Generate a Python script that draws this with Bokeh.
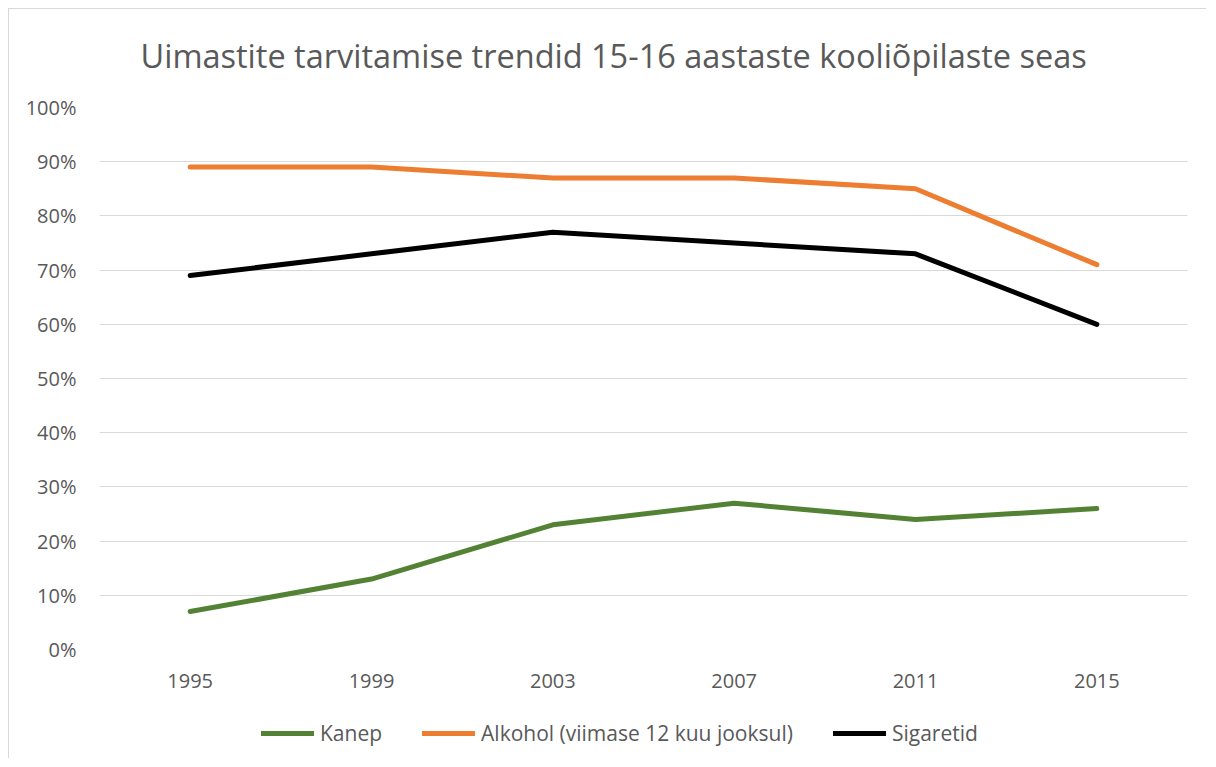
from bokeh.plotting import figure
from bokeh.layouts import column
from bokeh.models import (Range1d, FactorRange, FixedTicker, PrintfTickFormatter, Legend, LegendItem,
                          CategoricalAxis)
from bokeh.embed import file_html
from bokeh.resources import INLINE

years = ["1995", "1999", "2003", "2007", "2011", "2015"]
kanep = [7, 13, 23, 27, 24, 26]
alkohol = [89, 89, 87, 87, 85, 71]
sigaretid = [69, 73, 77, 75, 73, 60]
y_ticks = [0, 10, 20, 30, 40, 50, 60, 70, 80, 90, 100]
series_names = ["Kanep", "Alkohol (viimase 12 kuu jooksul)", "Sigaretid"]
series_colors = ["#548235", "#ed7d31", "#000000"]
title_text = "Uimastite tarvitamise trendid 15-16 aastaste kooliõpilaste seas"

FONT = "Open Sans"
TEXT = "#595959"
GRID = "#d9d9d9"

p = figure(frame_width=1087, frame_height=541, x_range=FactorRange(*years), y_range=Range1d(0, 100),
           output_backend="svg", toolbar_location=None,
           min_border_left=90, min_border_right=20, min_border_top=98, min_border_bottom=50)
p.styles = {"border-left": "1px solid #d9d9d9", "border-top": "1px solid #d9d9d9",
            "margin-left": "8px", "margin-top": "8px"}
p.background_fill_color = "white"
p.border_fill_color = "white"
p.outline_line_color = None

# invisible spacer (empty axis) between the title and the plot area
spacer = CategoricalAxis(axis_line_color=None, major_tick_line_color=None,
                         separator_line_color=None,
                         major_tick_out=30, major_tick_in=0, major_label_standoff=0,
                         major_label_text_font_size="1px", major_label_text_color=None,
                         major_label_overrides={y: "" for y in years})
p.add_layout(spacer, "above")

r_k = p.line(years, kanep, line_width=5, color=series_colors[0], line_cap="round", line_join="round")
r_a = p.line(years, alkohol, line_width=5, color=series_colors[1], line_cap="round", line_join="round")
r_s = p.line(years, sigaretid, line_width=5, color=series_colors[2], line_cap="round", line_join="round")

p.yaxis.ticker = FixedTicker(ticks=y_ticks)
p.yaxis.formatter = PrintfTickFormatter(format="%d%%")
for ax in (p.below[0], p.left[0]):
    ax.axis_line_color = None
    ax.major_tick_line_color = None
    ax.minor_tick_line_color = None
    ax.major_label_text_font = FONT
    ax.major_label_text_font_size = "20px"
    ax.major_label_text_color = TEXT
p.left[0].major_label_standoff = 17
p.below[0].major_label_standoff = 18

p.xgrid.grid_line_color = None
p.ygrid.grid_line_color = GRID
p.ygrid.grid_line_width = 1

p.title.text = title_text
p.title.align = "left"
p.title.text_font = FONT
p.title.text_font_size = "32.5px"
p.title.text_font_style = "normal"
p.title.text_color = TEXT
p.title.standoff = 0
p.title.offset = 41

# legend strip under the chart (series re-drawn off-range here, only to carry the legend)
p2 = figure(width=1197, height=60, x_range=Range1d(0, 1), y_range=Range1d(0, 1),
            x_axis_location=None, y_axis_location=None, min_border=0,
            output_backend="svg", toolbar_location=None)
p2.styles = {"border-left": "1px solid #d9d9d9", "margin-left": "8px"}
p2.outline_line_color = None
p2.grid.visible = False
p2.background_fill_color = "white"
p2.border_fill_color = "white"
idx = list(range(len(years)))
leg_renderers = [p2.line(idx, vals, line_width=5, color=c, line_cap="round")
                 for vals, c in zip([kanep, alkohol, sigaretid], series_colors)]

legend = Legend(items=[LegendItem(label=n, renderers=[r]) for n, r in zip(series_names, leg_renderers)],
                orientation="horizontal", location=(162, 11),
                glyph_width=53, glyph_height=20, label_standoff=6, spacing=40,
                label_text_font=FONT, label_text_font_size="21px", label_text_color=TEXT,
                border_line_color=None, background_fill_alpha=0, margin=0, padding=5)
p2.add_layout(legend, "center")

layout = column(p, p2, spacing=0)
open("out.html", "w").write(file_html(layout, INLINE))
